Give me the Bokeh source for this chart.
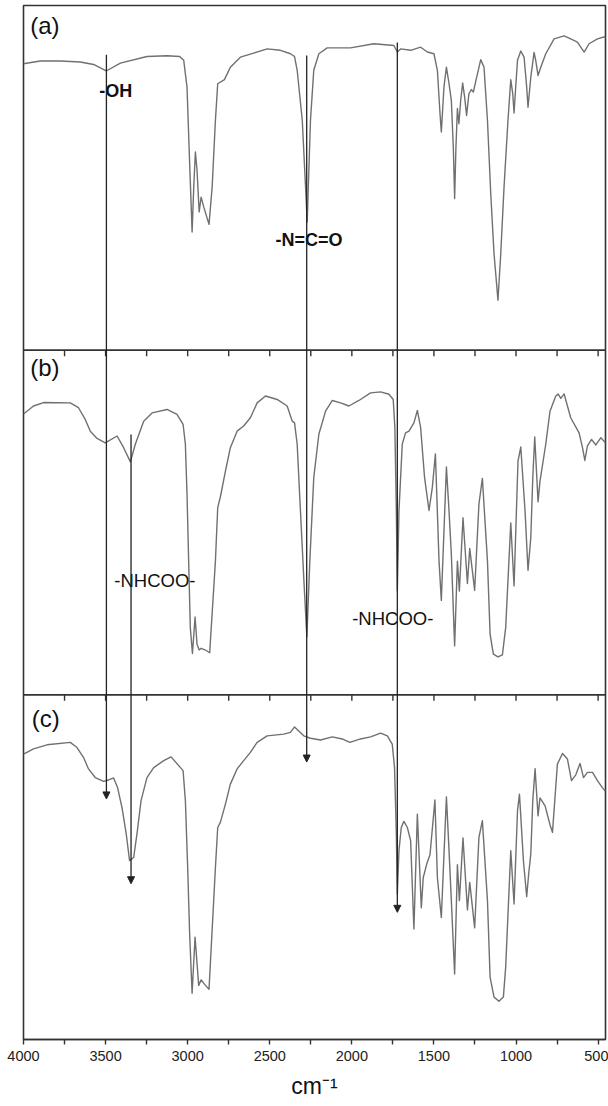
from bokeh.plotting import figure
from bokeh.models import Range1d, FixedTicker, Span, Arrow, NormalHead
from bokeh.core.properties import value
from bokeh.embed import file_html
from bokeh.resources import INLINE

# ---------------- data (wavenumber cm-1, transmittance a.u. in % of panel) ----------------
wn_a = [4000, 3898, 3776, 3654, 3573, 3496, 3410, 3248, 3126, 3049,
        3024, 3004, 2990, 2973, 2963, 2953, 2943, 2930, 2918, 2902,
        2870, 2851, 2831, 2817, 2776, 2740, 2679, 2598, 2516, 2435,
        2374, 2349, 2333, 2302, 2282, 2272, 2252, 2232, 2201, 2150,
        2008, 1866, 1744, 1723, 1703, 1642, 1581, 1540, 1500, 1479,
        1463, 1455, 1439, 1424, 1408, 1394, 1382, 1374, 1366, 1357,
        1348, 1337, 1325, 1313, 1301, 1287, 1272, 1260, 1244, 1215,
        1195, 1174, 1154, 1134, 1110, 1093, 1073, 1049, 1032, 1020,
        1012, 1002, 991, 971, 951, 935, 927, 910, 890, 880,
        866, 849, 819, 768, 707, 667, 626, 585, 555, 504, 455]
t_a = [83.1, 83.9, 83.9, 83.6, 82.9, 81.0, 83.3, 85.2, 85.4, 85.2,
       84.1, 76.3, 57.0, 34.3, 47.3, 57.5, 52.2, 40.1, 44.4, 41.5,
       36.5, 47.3, 66.7, 77.3, 78.5, 82.1, 85.0, 86.2, 87.4, 87.0,
       86.0, 85.2, 81.2, 66.7, 47.3, 37.2, 66.7, 81.2, 86.0, 87.7,
       87.7, 88.9, 88.4, 86.5, 87.4, 87.0, 87.9, 86.5, 86.0, 81.2,
       68.6, 63.3, 76.3, 82.1, 77.3, 72.5, 58.9, 44.0, 58.9, 70.1,
       65.7, 72.5, 77.5, 73.4, 68.1, 74.4, 75.6, 74.9, 78.3, 84.3,
       82.1, 66.7, 45.4, 28.0, 14.5, 28.0, 47.3, 66.7, 78.5, 74.4,
       68.8, 76.3, 84.1, 86.8, 85.0, 76.3, 70.5, 79.2, 86.4, 84.1,
       79.7, 82.1, 86.0, 90.3, 91.2, 90.3, 89.4, 86.5, 88.9, 90.3, 91.0]

wn_b = [4000, 3939, 3878, 3715, 3665, 3624, 3593, 3552, 3502, 3430,
        3390, 3349, 3319, 3268, 3217, 3126, 3065, 3028, 3014, 3004,
        2994, 2984, 2971, 2955, 2943, 2930, 2918, 2892, 2866, 2831,
        2817, 2801, 2770, 2740, 2699, 2659, 2618, 2577, 2526, 2455,
        2394, 2363, 2349, 2333, 2313, 2293, 2274, 2256, 2232, 2201,
        2160, 2119, 2069, 2018, 1957, 1886, 1825, 1774, 1748, 1738,
        1729, 1723, 1713, 1693, 1673, 1652, 1622, 1601, 1581, 1557,
        1530, 1510, 1491, 1469, 1455, 1424, 1408, 1394, 1374, 1357,
        1345, 1323, 1296, 1282, 1252, 1226, 1205, 1174, 1158, 1138,
        1110, 1083, 1063, 1032, 1012, 988, 971, 945, 927, 910,
        898, 886, 866, 854, 819, 793, 758, 744, 727, 707,
        667, 616, 595, 581, 565, 540, 514, 483, 455]
t_b = [81.5, 83.8, 84.8, 84.7, 83.3, 79.9, 76.5, 74.4, 73.1, 75.1,
       71.7, 67.6, 72.7, 79.4, 81.8, 82.8, 81.4, 78.5, 72.7, 58.2,
       38.8, 19.5, 12.0, 22.6, 14.7, 13.0, 13.5, 13.0, 12.2, 38.8,
       54.3, 57.4, 64.9, 71.7, 76.5, 78.0, 80.4, 84.7, 86.7, 85.7,
       83.8, 79.4, 78.9, 72.7, 53.3, 34.0, 16.8, 38.8, 63.0, 75.6,
       82.3, 85.4, 84.7, 83.8, 85.4, 87.6, 87.9, 87.2, 85.7, 77.5,
       53.3, 30.1, 53.3, 72.7, 76.0, 76.5, 78.9, 82.5, 77.5, 63.0,
       53.5, 60.1, 69.9, 38.8, 27.4, 66.1, 53.3, 40.8, 14.2, 38.8,
       30.1, 51.4, 32.3, 42.5, 30.3, 55.3, 62.8, 38.8, 17.6, 11.8,
       11.0, 11.6, 19.5, 49.9, 31.6, 67.8, 71.9, 53.3, 36.1, 45.6,
       63.0, 74.8, 56.0, 62.0, 72.7, 82.3, 86.7, 87.3, 86.0, 87.3,
       80.4, 76.0, 71.7, 68.0, 72.2, 74.1, 72.5, 74.6, 73.1]

wn_c = [4000, 3939, 3857, 3715, 3674, 3634, 3604, 3563, 3512, 3482,
        3451, 3427, 3400, 3374, 3354, 3329, 3309, 3284, 3248, 3207,
        3146, 3101, 3028, 3014, 3000, 2988, 2973, 2955, 2933, 2918,
        2892, 2870, 2831, 2817, 2801, 2770, 2740, 2699, 2659, 2618,
        2577, 2516, 2415, 2374, 2349, 2293, 2252, 2191, 2119, 2059,
        2012, 1947, 1886, 1825, 1784, 1754, 1740, 1729, 1723, 1713,
        1699, 1683, 1662, 1642, 1622, 1601, 1577, 1565, 1544, 1524,
        1494, 1479, 1455, 1424, 1408, 1394, 1374, 1357, 1345, 1323,
        1296, 1282, 1252, 1226, 1205, 1174, 1158, 1134, 1104, 1077,
        1063, 1032, 1012, 991, 979, 955, 935, 923, 910, 898,
        884, 866, 854, 823, 793, 778, 764, 748, 717, 687,
        662, 636, 610, 589, 565, 534, 504, 473, 455]
t_c = [82.8, 84.3, 85.5, 86.2, 84.7, 81.8, 78.5, 76.0, 74.9, 75.3,
       75.9, 73.1, 67.3, 59.6, 51.9, 52.8, 59.6, 69.3, 76.0, 78.9,
       80.9, 82.0, 78.0, 69.3, 49.9, 30.6, 13.4, 29.7, 15.7, 17.3,
       15.7, 14.6, 49.9, 61.5, 63.0, 68.3, 74.1, 78.5, 80.9, 83.3,
       86.2, 88.1, 88.6, 89.1, 90.7, 88.1, 87.4, 86.9, 87.8, 87.2,
       86.2, 87.2, 87.8, 88.9, 88.1, 85.7, 78.9, 59.6, 42.2, 54.8,
       61.5, 63.3, 61.5, 57.7, 32.1, 65.4, 38.2, 47.0, 50.9, 53.6,
       69.5, 47.0, 35.4, 70.4, 54.8, 40.3, 19.0, 50.7, 40.3, 58.5,
       37.6, 45.6, 32.4, 58.6, 63.5, 40.3, 18.1, 12.3, 11.1, 12.3,
       21.0, 54.8, 39.3, 66.4, 71.2, 51.9, 41.4, 48.0, 53.8, 69.3,
       78.6, 64.9, 70.1, 67.8, 62.3, 60.1, 69.3, 79.9, 83.0, 81.4,
       75.1, 76.8, 80.1, 76.0, 77.5, 77.5, 75.1, 73.0, 72.0]

panel_names = ["(a)", "(b)", "(c)"]
x_ticks = [4000, 3500, 3000, 2500, 2000, 1500, 1000, 500]
x_minor = [3750, 3250, 2750, 2250, 1750, 1250, 750]

# annotation arrows: wavenumber, start (stacked y), end (stacked y)
arrow_wn = [3495, 2275, 1723, 3345]
arrow_y0 = [2.857, 2.855, 2.893, 1.755]
arrow_y1 = [0.698, 0.805, 0.369, 0.452]

# labels
bold_text = ["-OH", "-N=C=O"]
bold_x = [3538, 2465]
bold_y = [2.751, 2.321]
norm_text = ["-NHCOO-", "-NHCOO-"]
norm_x = [3447, 1998]
norm_y = [1.332, 1.221]

# ---------------- figure ----------------
W, H = 608, 1106
TOP, BOTTOM = 5, 67
frame_h = H - TOP - BOTTOM
px_per_unit = frame_h / 3.0

p = figure(width=W, height=H, x_range=Range1d(4000, 455), y_range=Range1d(0, 3),
           output_backend="svg", toolbar_location=None, y_axis_location=None,
           min_border_left=23, min_border_right=3, min_border_top=TOP,
           min_border_bottom=BOTTOM)
p.xgrid.visible = False
p.ygrid.visible = False
p.outline_line_color = "#333333"
p.outline_line_width = 1.6
p.background_fill_color = "white"
p.border_fill_color = "white"

FONT = value("Liberation Sans")
line_col = "#707070"

for wn, t, off in [(wn_a, t_a, 2), (wn_b, t_b, 1), (wn_c, t_c, 0)]:
    p.line(wn, [off + v / 100.0 for v in t], line_color=line_col, line_width=1.4,
           line_join="round")

# panel separators with downward ticks
tick_len = 6.0 / px_per_unit
all_ticks = [t for t in sorted(x_ticks + x_minor, reverse=True) if t != 4000]
for b in [1, 2]:
    p.add_layout(Span(location=b, dimension="width", line_color="#333333", line_width=1.6))
    p.segment(x0=all_ticks, y0=[b] * len(all_ticks), x1=all_ticks,
              y1=[b - tick_len] * len(all_ticks), line_color="#333333", line_width=1.4)

# arrows
for x, y0, y1 in zip(arrow_wn, arrow_y0, arrow_y1):
    p.add_layout(Arrow(end=NormalHead(size=7, fill_color="#222222", line_color="#222222", line_width=1),
                       x_start=x, y_start=y0, x_end=x, y_end=y1,
                       line_color="#222222", line_width=1.3))

# texts
p.text(x=bold_x, y=bold_y, text=bold_text, text_font=FONT, text_font_size="18px",
       text_font_style="bold", text_baseline="middle", text_align="left", text_color="#111111")
p.text(x=norm_x, y=norm_y, text=norm_text, text_font=FONT, text_font_size="18.5px",
       text_baseline="middle", text_align="left", text_color="#111111")
p.text(x=[3959, 3959, 3950], y=[2.942, 1.950, 0.931], text=panel_names, text_font=FONT,
       text_font_size="24px", text_baseline="middle", text_align="left", text_color="#111111")

# x axis
ax = p.xaxis[0]
ax.ticker = FixedTicker(ticks=x_ticks, minor_ticks=x_minor)
ax.axis_label = "cm⁻¹"
ax.axis_label_text_font = "Liberation Sans"
ax.axis_label_text_font_style = "normal"
ax.axis_label_text_font_size = "23px"
ax.axis_label_text_color = "#111111"
ax.axis_label_standoff = 9
ax.major_label_text_font = "Liberation Sans"
ax.major_label_text_font_size = "14.5px"
ax.major_label_text_color = "#222222"
ax.major_label_standoff = 6
ax.axis_line_color = "#333333"
ax.axis_line_width = 1.6
ax.major_tick_line_color = "#333333"
ax.minor_tick_line_color = "#333333"
ax.major_tick_line_width = 1.4
ax.minor_tick_line_width = 1.4
ax.major_tick_in = 0
ax.major_tick_out = 5
ax.minor_tick_in = 0
ax.minor_tick_out = 5

open("out.html", "w").write(file_html(p, INLINE))
